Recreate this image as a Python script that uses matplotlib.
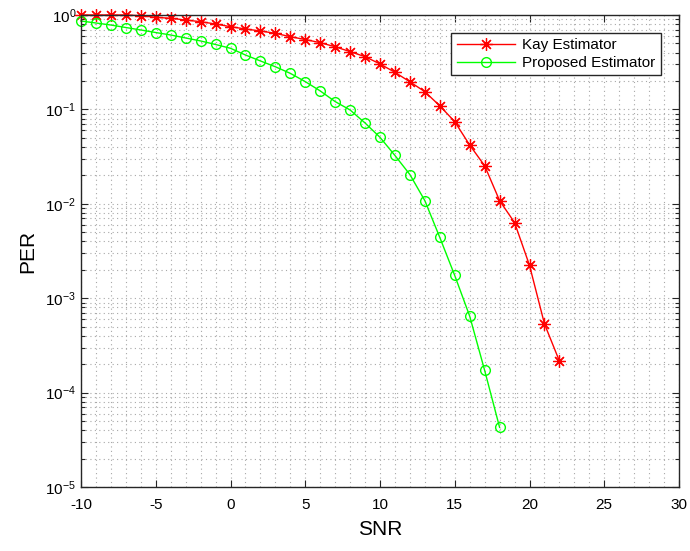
import numpy as np
import matplotlib
matplotlib.use('Agg')
import matplotlib.pyplot as plt
from matplotlib.ticker import MultipleLocator, LogLocator, NullFormatter

plt.rcParams['font.family'] = ['Liberation Sans', 'DejaVu Sans']
plt.rcParams['axes.unicode_minus'] = False

# data
snr_kay = list(range(-10, 23))
per_kay = [1.0, 1.0, 1.0, 1.0, 0.983, 0.945, 0.923, 0.885, 0.849, 0.803,
           0.752, 0.711, 0.677, 0.64, 0.589, 0.55, 0.509, 0.461, 0.409, 0.362,
           0.303, 0.247, 0.196, 0.154, 0.109, 0.0741, 0.0419, 0.0253, 0.0108,
           0.00633, 0.00223, 0.000535, 0.000216]

snr_prop = list(range(-10, 19))
per_prop = [0.864, 0.823, 0.783, 0.737, 0.694, 0.652, 0.614, 0.571, 0.531,
            0.487, 0.444, 0.377, 0.326, 0.283, 0.241, 0.197, 0.157, 0.121,
            0.0986, 0.0718, 0.0506, 0.0325, 0.0204, 0.0108, 0.0044, 0.00174,
            0.000645, 0.000172, 4.28e-5]

labels = ['Kay Estimator', 'Proposed Estimator']

fig = plt.figure(figsize=(6.9, 5.51), dpi=100)
ax = fig.add_axes([81/690, 1-487/551, 598/690, 472/551])

asterisk = (8, 2, 0)
ax.semilogy(snr_kay, per_kay, color='red', lw=1, marker=asterisk,
            markersize=9, markeredgewidth=0.9, label=labels[0], clip_on=False)
ax.semilogy(snr_prop, per_prop, color='#00ff00', lw=1, marker='o',
            markersize=7, markerfacecolor='none', markeredgewidth=1,
            label=labels[1], clip_on=False)

ax.set_xlim(-10, 30)
ax.set_ylim(1e-5, 1)
ax.xaxis.set_major_locator(MultipleLocator(5))
ax.xaxis.set_minor_locator(MultipleLocator(1))
ax.yaxis.set_major_locator(LogLocator(base=10, numticks=10))
ax.yaxis.set_minor_locator(LogLocator(base=10, subs=np.arange(2, 10), numticks=20))
ax.yaxis.set_minor_formatter(NullFormatter())

ax.grid(True, which='both', linestyle=(0, (1, 3)), color='#a8a8a8', lw=0.8)
ax.set_axisbelow(True)

ax.tick_params(which='both', direction='in', top=True, right=True,
               labelsize=11, colors='#262626', width=0.8)
ax.tick_params(which='major', length=5)
ax.tick_params(axis='y', which='minor', length=3)
ax.tick_params(axis='x', which='minor', length=0)
ax.tick_params(axis='x', which='major', pad=8)
for s in ax.spines.values():
    s.set_color('#262626')
    s.set_linewidth(1)
for t in ax.get_xticklabels() + ax.get_yticklabels():
    t.set_color('black')

ax.set_xlabel('SNR', fontsize=15, labelpad=6)
ax.set_ylabel('PER', fontsize=15, labelpad=6)

leg = ax.legend(loc='upper right', bbox_to_anchor=(0.970, 0.962), fontsize=11,
                fancybox=False, framealpha=1, edgecolor='#262626',
                borderaxespad=0, handlelength=3.8, borderpad=0.35,
                labelspacing=0.25, handletextpad=0.5)
leg.get_frame().set_linewidth(1)

fig.savefig('out.png', dpi=100)
